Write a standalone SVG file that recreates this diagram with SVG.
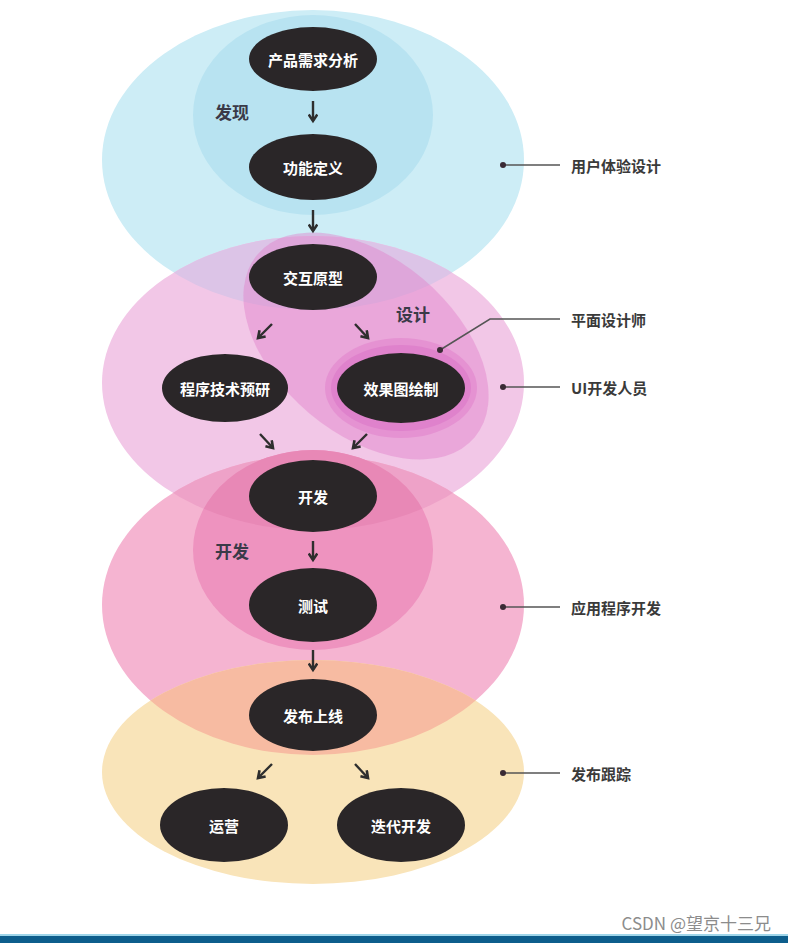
<svg xmlns="http://www.w3.org/2000/svg" width="788" height="943" viewBox="0 0 788 943">
<style>
.node ellipse{fill:#2a2628}
.node text{fill:#ffffff;font-family:'Noto Sans CJK SC',sans-serif;font-size:15px;font-weight:bold;text-anchor:middle;dominant-baseline:central}
.sec{fill:#3a3a48;font-family:'Noto Sans CJK SC',sans-serif;font-size:17px;font-weight:bold}
.lab{fill:#3a3a3a;font-family:'Noto Sans CJK SC',sans-serif;font-size:15px;font-weight:bold;dominant-baseline:central}
.lead{stroke:#555;stroke-width:1.5;fill:none}
.dot{fill:#3a2a35}
.arr{stroke:#2e2e2e;stroke-width:2.4;fill:none;marker-end:url(#ah)}
</style>
<defs>
<marker id="ah" viewBox="0 0 10 10" refX="7" refY="5" markerWidth="4.5" markerHeight="4.5" orient="auto" markerUnits="strokeWidth">
<path d="M1,1 L7,5 L1,9" fill="none" stroke="#2e2e2e" stroke-width="2.4"/>
</marker>
<clipPath id="cBlue"><ellipse cx="313" cy="160" rx="211" ry="150"/></clipPath>
<clipPath id="cUi"><ellipse cx="313" cy="383" rx="211" ry="147"/></clipPath>
<clipPath id="cDev"><ellipse cx="313" cy="605" rx="211" ry="150"/></clipPath>
</defs>
<rect width="788" height="943" fill="#ffffff"/>
<g id="regions">
<ellipse id="ux" cx="313" cy="160" rx="211" ry="150" fill="#cdedf6"/>
<ellipse id="discover" cx="313" cy="115" rx="120" ry="100" fill="#b8e3f1"/>
<ellipse id="ui" cx="313" cy="383" rx="211" ry="147" fill="#f2c7e7"/>
<ellipse cx="313" cy="383" rx="211" ry="147" fill="#dcc4e7" clip-path="url(#cBlue)"/>
<ellipse id="design" cx="366" cy="346" rx="142" ry="88" transform="rotate(40 366 346)" fill="#e07cc8" fill-opacity="0.42"/>
<ellipse id="graphic-outer" cx="401" cy="388" rx="76" ry="50" fill="#e592d2"/>
<ellipse id="graphic-inner" cx="401" cy="388" rx="70" ry="43" fill="#df82cc"/>
<ellipse id="dev" cx="313" cy="605" rx="211" ry="150" fill="#f5b4d1"/>
<ellipse cx="313" cy="605" rx="211" ry="150" fill="#eea2c8" clip-path="url(#cUi)"/>
<ellipse id="devInner" cx="313" cy="550" rx="120" ry="100" fill="#ee93bf"/>
<ellipse cx="313" cy="550" rx="120" ry="100" fill="#e888b6" clip-path="url(#cUi)"/>
<ellipse id="release" cx="313" cy="772" rx="211" ry="112" fill="#f9e4b9"/>
<ellipse cx="313" cy="772" rx="211" ry="112" fill="#f7bba2" clip-path="url(#cDev)"/>
</g>
<g id="sections">
<text class="sec" x="215" y="119">发现</text>
<text class="sec" x="396" y="321">设计</text>
<text class="sec" x="215" y="558">开发</text>
</g>
<g id="connectors">
<line class="arr" x1="313" y1="101" x2="313" y2="121"/>
<line class="arr" x1="313" y1="210" x2="313" y2="231"/>
<line class="arr" x1="272" y1="324" x2="258" y2="338"/>
<line class="arr" x1="355" y1="324" x2="368" y2="338"/>
<line class="arr" x1="260" y1="434" x2="273" y2="448"/>
<line class="arr" x1="367" y1="434" x2="353" y2="448"/>
<line class="arr" x1="313" y1="541" x2="313" y2="560"/>
<line class="arr" x1="313" y1="650" x2="313" y2="670"/>
<line class="arr" x1="272" y1="764" x2="258" y2="778"/>
<line class="arr" x1="355" y1="764" x2="368" y2="778"/>
</g>
<g id="n1" class="node"><ellipse cx="313" cy="59" rx="64" ry="32"/><text x="313" y="59">产品需求分析</text></g>
<g id="n2" class="node"><ellipse cx="313" cy="167" rx="64" ry="33"/><text x="313" y="167">功能定义</text></g>
<g id="n3" class="node"><ellipse cx="313" cy="277" rx="64" ry="33"/><text x="313" y="277">交互原型</text></g>
<g id="n4" class="node"><ellipse cx="225" cy="388" rx="63" ry="34"/><text x="225" y="388">程序技术预研</text></g>
<g id="n5" class="node"><ellipse cx="401" cy="388" rx="64" ry="35"/><text x="401" y="388">效果图绘制</text></g>
<g id="n6" class="node"><ellipse cx="313" cy="496" rx="64" ry="36"/><text x="313" y="496">开发</text></g>
<g id="n7" class="node"><ellipse cx="313" cy="605" rx="64" ry="37"/><text x="313" y="605">测试</text></g>
<g id="n8" class="node"><ellipse cx="313" cy="715" rx="64" ry="36"/><text x="313" y="715">发布上线</text></g>
<g id="n9" class="node"><ellipse cx="224" cy="825" rx="64" ry="37"/><text x="224" y="825">运营</text></g>
<g id="n10" class="node"><ellipse cx="401" cy="825" rx="64" ry="37"/><text x="401" y="825">迭代开发</text></g>
<g id="legend">
<line class="lead" x1="503" y1="165" x2="560" y2="165"/><circle class="dot" cx="503" cy="165" r="3"/>
<text class="lab" x="571" y="165">用户体验设计</text>
<polyline class="lead" points="440,350 490,319 560,319"/><circle class="dot" cx="440" cy="350" r="3"/>
<text class="lab" x="571" y="319">平面设计师</text>
<line class="lead" x1="503" y1="387" x2="560" y2="387"/><circle class="dot" cx="503" cy="387" r="3"/>
<text class="lab" x="571" y="387">UI开发人员</text>
<line class="lead" x1="503" y1="607" x2="560" y2="607"/><circle class="dot" cx="503" cy="607" r="3"/>
<text class="lab" x="571" y="607">应用程序开发</text>
<line class="lead" x1="503" y1="773" x2="560" y2="773"/><circle class="dot" cx="503" cy="773" r="3"/>
<text class="lab" x="571" y="773">发布跟踪</text>
</g>
<text x="771" y="930" fill="#8c8c8c" font-family="'Noto Sans CJK SC',sans-serif" font-size="17" text-anchor="end">CSDN @望京十三兄</text>
<rect x="0" y="934" width="788" height="2" fill="#9fd6ea"/>
<rect x="0" y="936" width="788" height="7" fill="#0d5e8c"/>
</svg>
